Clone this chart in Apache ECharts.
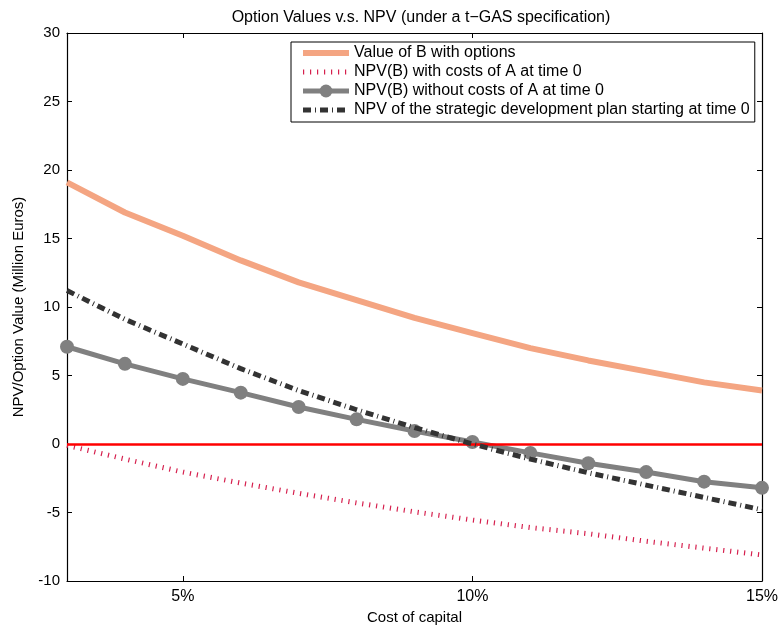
<!DOCTYPE html>
<html>
<head>
<meta charset="utf-8">
<script src="https://cdn.jsdelivr.net/npm/echarts@6/dist/echarts.min.js"></script>
<style>
  html, body { margin: 0; padding: 0; background: #fff; }
  #chart { width: 781px; height: 627px; }
</style>
</head>
<body>
<div id="chart"></div>
<script>
// cost of capital in percent
const rates = [3, 4, 5, 6, 7, 8, 9, 10, 11, 12, 13, 14, 15];
const valueWithOptions = [19.1, 16.9, 15.2, 13.4, 11.8, 10.5, 9.2, 8.1, 7.0, 6.1, 5.3, 4.5, 3.9];
const npvWithCostsA = [-0.1, -1.1, -2.05, -2.85, -3.6, -4.3, -4.95, -5.55, -6.1, -6.55, -7.1, -7.6, -8.1];
const npvWithoutCostsA = [7.1, 5.85, 4.75, 3.75, 2.7, 1.8, 0.95, 0.15, -0.65, -1.4, -2.05, -2.75, -3.2];
const npvStrategicPlan = [11.2, 9.1, 7.3, 5.5, 3.9, 2.5, 1.2, 0.0, -1.1, -2.1, -3.0, -3.9, -4.8];
const xTicks = [5, 10, 15];

const names = [
  "Value of B with options",
  "NPV(B) with costs of A at time 0",
  "NPV(B) without costs of A at time 0",
  "NPV of the strategic development plan starting at time 0",
];

const pair = (ys) => rates.map((x, i) => [x, ys[i]]);
const FONT = "Liberation Sans, Arial, sans-serif";

const styles = {
  orange: { color: "#f4a582", width: 6 },
  dotted: { color: "#d6204e", width: 5, type: [1.2, 5.8], cap: "butt" },
  gray: { color: "#808080", width: 5 },
  dashdot: { color: "#333333", width: 5, type: [8, 4, 1, 4], cap: "butt" },
};

const chart = echarts.init(document.getElementById("chart"), null, { renderer: "canvas" });

const xBase = {
  type: "value",
  min: 3,
  max: 15,
  axisLine: { onZero: false, lineStyle: { color: "#000", width: 1.2 } },
  axisTick: { inside: true, length: 5, customValues: xTicks, lineStyle: { color: "#000" } },
  splitLine: { show: false },
};
const yBase = {
  type: "value",
  min: -10,
  max: 30,
  interval: 5,
  axisLine: { onZero: false, lineStyle: { color: "#000", width: 1.2 } },
  axisTick: { inside: true, length: 5, lineStyle: { color: "#000" } },
  splitLine: { show: false },
};

chart.setOption({
  animation: false,
  backgroundColor: "#fff",
  title: {
    text: "Option Values v.s. NPV (under a t\u2212GAS specification)",
    left: 416,
    textAlign: "center",
    top: 5,
    textStyle: { fontFamily: FONT, fontSize: 16, fontWeight: "normal", color: "#000" },
  },
  grid: { left: 67, right: 19, top: 33, bottom: 46, outerBoundsMode: "none", containLabel: false },
  legend: {
    data: [
      { name: names[0], itemStyle: { opacity: 0 }, lineStyle: styles.orange },
      { name: names[1], itemStyle: { opacity: 0 }, lineStyle: styles.dotted },
      { name: names[2], lineStyle: styles.gray },
      { name: names[3], itemStyle: { opacity: 0 }, lineStyle: styles.dashdot },
    ],
    orient: "vertical",
    left: 291,
    top: 42,
    padding: [3, 5, 4, 9],
    itemGap: 3,
    itemWidth: 46,
    itemHeight: 16,
    backgroundColor: "#fff",
    borderColor: "#000",
    borderWidth: 1,
    textStyle: { fontFamily: FONT, fontSize: 16, color: "#000" },
  },
  xAxis: [
    {
      ...xBase,
      position: "bottom",
      name: "Cost of capital",
      nameLocation: "middle",
      nameGap: 29,
      nameTextStyle: { fontFamily: FONT, fontSize: 15, color: "#000" },
      axisLabel: {
        customValues: xTicks,
        margin: 8,
        fontFamily: FONT,
        fontSize: 16,
        color: "#000",
        formatter: (v) => v + "%",
      },
    },
    { ...xBase, position: "top", axisLabel: { show: false } },
  ],
  yAxis: [
    {
      ...yBase,
      position: "left",
      name: "NPV/Option Value (Million Euros)",
      nameLocation: "middle",
      nameGap: 41,
      nameTextStyle: { fontFamily: FONT, fontSize: 15, color: "#000" },
      axisLabel: { margin: 7, fontFamily: FONT, fontSize: 15, color: "#000" },
    },
    { ...yBase, position: "right", axisLabel: { show: false } },
  ],
  series: [
    {
      name: names[0],
      type: "line",
      symbol: "none",
      data: pair(valueWithOptions),
      lineStyle: styles.orange,
      itemStyle: { color: styles.orange.color },
      z: 2,
    },
    {
      name: names[1],
      type: "line",
      symbol: "none",
      data: pair(npvWithCostsA),
      lineStyle: styles.dotted,
      itemStyle: { color: styles.dotted.color },
      markLine: {
        silent: true,
        symbol: "none",
        label: { show: false },
        lineStyle: { color: "#ff0000", width: 2.5, type: "solid" },
        data: [{ yAxis: 0 }],
      },
      z: 3,
    },
    {
      name: names[2],
      type: "line",
      symbol: "circle",
      symbolSize: 14,
      data: pair(npvWithoutCostsA),
      lineStyle: styles.gray,
      itemStyle: { color: styles.gray.color },
      z: 4,
    },
    {
      name: names[3],
      type: "line",
      symbol: "none",
      data: pair(npvStrategicPlan),
      lineStyle: styles.dashdot,
      itemStyle: { color: styles.dashdot.color },
      z: 5,
    },
  ],
});
</script>
</body>
</html>
